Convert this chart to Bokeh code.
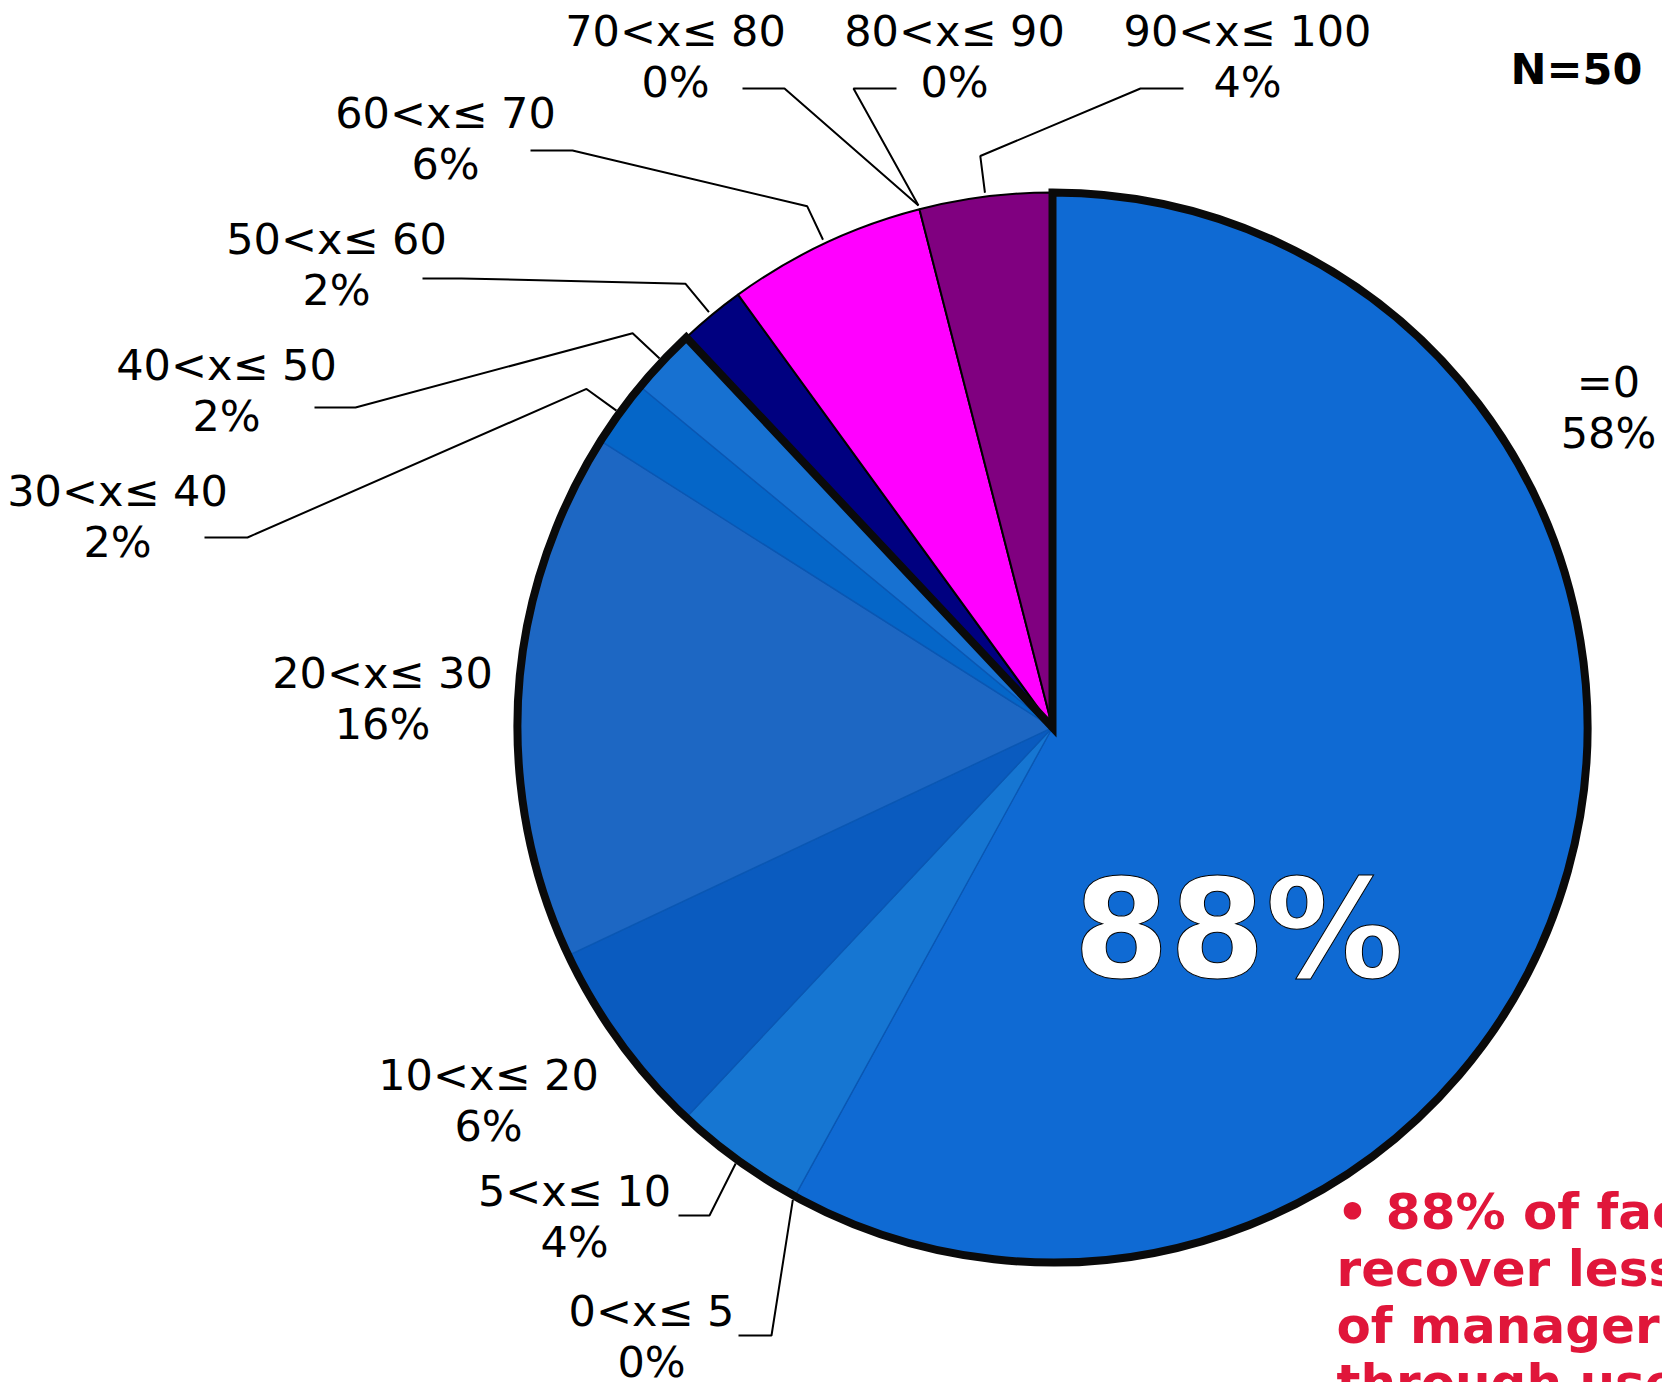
import math
from bokeh.plotting import figure
from bokeh.models import Range1d, ColumnDataSource, Text
from bokeh.core.properties import value
from bokeh.embed import file_html
from bokeh.resources import INLINE

# ---------------- data ----------------
categories = ["=0", "0<x≤ 5", "5<x≤ 10", "10<x≤ 20", "20<x≤ 30", "30<x≤ 40",
              "40<x≤ 50", "50<x≤ 60", "60<x≤ 70", "70<x≤ 80", "80<x≤ 90", "90<x≤ 100"]
shares = [58, 0, 4, 6, 16, 2, 2, 2, 6, 0, 0, 4]
colors = ["#0F6AD3", "#0F6AD3", "#1676D2", "#0A5BBF", "#1D67C3", "#0566C8",
          "#1771D1", "#000080", "#FF00FF", "#FF00FF", "#800080", "#800080"]
group_size = 7          # first seven categories form the highlighted group
n_label = "N=50"
note_lines = ["• 88% of facilities", "recover less than 50%",
              "of manager costs", "through user fees"]

# ---------------- layout (screen pixels) ----------------
W, H = 1662, 1382
def Y(sy):
    return H - sy

CX, CY, R = 1052, 727, 535
FONT = "DejaVu Sans"
LBL_SIZE = "43px"
LINE_GAP = 51
LBL_CORR = 17     # baseline correction for text rendering
BIG_CORR = 45

# label centre x, first-line baseline (screen coords)
label_pos = [(1608, 398), (651, 1327), (574, 1207), (488, 1091), (382, 689), (117, 507),
             (226, 381), (336, 255), (445, 129), (675, 47), (954, 47), (1247, 47)]
# leader lines: index -> (radial elbow?, remaining points)
leader_layout = {
    1: (False, [(771, 1335), (738, 1335)]),
    2: (False, [(709, 1215), (678, 1215)]),
    5: (True, [(247, 537), (204, 537)]),
    6: (True, [(355, 407), (314, 407)]),
    7: (True, [(461, 278), (422, 278)]),
    8: (True, [(572, 150), (530, 150)]),
    9: (False, [(784, 88), (742, 88)]),
    10: (False, [(853, 88), (896, 88)]),
    11: (True, [(1140, 88), (1183, 88)]),
}

# ---------------- angles ----------------
total = float(sum(shares))
theta1, theta2 = [], []   # clockwise from 12 o'clock, degrees
acc = 0.0
for s in shares:
    theta1.append(acc * 360 / total)
    acc += s
    theta2.append(acc * 360 / total)

def bk_angles(t1, t2):
    return math.radians(90 - t2), math.radians(90 - t1)

def pt(theta, r):
    t = math.radians(theta)
    return CX + r * math.sin(t), CY - r * math.cos(t)

p = figure(width=W, height=H, x_range=Range1d(0, W), y_range=Range1d(0, H),
           output_backend="svg", toolbar_location=None, min_border=0,
           x_axis_type=None, y_axis_type=None, outline_line_color=None,
           background_fill_color="white", border_fill_color="white")
p.grid.visible = False

# slices
src = dict(x=[], y=[], start=[], end=[], fill=[], line=[], lw=[])
for i, s in enumerate(shares):
    if s == 0:
        continue
    a, b = bk_angles(theta1[i], theta2[i])
    src["x"].append(CX); src["y"].append(Y(CY))
    src["start"].append(a); src["end"].append(b)
    src["fill"].append(colors[i])
    blue = i < group_size
    src["line"].append("#0A57B3" if blue else "black")
    src["lw"].append(1.3 if blue else 2)
p.wedge(x="x", y="y", radius=R, start_angle="start", end_angle="end",
        fill_color="fill", line_color="line", line_width="lw",
        source=ColumnDataSource(src))

# highlighted group outline
ga, gb = bk_angles(theta1[0], theta2[group_size - 1])
p.wedge(x=[CX], y=[Y(CY)], radius=R, start_angle=ga, end_angle=gb,
        fill_color=None, line_color="#0a0a0a", line_width=8, line_join="miter")

# leader lines
xs, ys = [], []
for i, (elbow, pts) in leader_layout.items():
    mid = (theta1[i] + theta2[i]) / 2
    path = [pt(mid, R + 4)]
    if elbow:
        path.append(pt(mid, R + 41))
    path += pts
    xs.append([q[0] for q in path])
    ys.append([Y(q[1]) for q in path])
p.multi_line(xs, ys, line_color="black", line_width=2)

# category labels
lx, ly, lt = [], [], []
for i, c in enumerate(categories):
    x0, b0 = label_pos[i]
    lx += [x0, x0]
    ly += [Y(b0 - LBL_CORR), Y(b0 + LINE_GAP - LBL_CORR)]
    lt += [c, f"{shares[i]}%"]
p.text(x=lx, y=ly, text=lt, text_font=value(FONT), text_font_size=LBL_SIZE,
       text_align="center", text_baseline="alphabetic", text_color="black")

# N label
p.text(x=[1576], y=[Y(85 - LBL_CORR)], text=[n_label], text_font=value(FONT),
       text_font_size="43px", text_font_style="bold", text_align="center",
       text_baseline="alphabetic", text_color="black")

# big group percentage
group_pct = sum(shares[:group_size])
extra = {}
if "text_outline_width" in Text.properties():
    extra["text_outline_width"] = 3
p.text(x=[1238], y=[Y(974 - BIG_CORR)], text=[f"{group_pct}%"], text_font=value(FONT),
       text_font_size="138px", text_font_style="bold", text_align="center",
       text_baseline="alphabetic", text_color="white", text_outline_color="black",
       **extra)

# red note
p.text(x=[1336] * len(note_lines),
       y=[Y(1228 + 57 * k - LBL_CORR) for k in range(len(note_lines))],
       text=note_lines, text_font=value(FONT), text_font_size="50px",
       text_font_style="bold", text_align="left", text_baseline="alphabetic",
       text_color="#E0163A")

open("out.html", "w").write(file_html(p, INLINE))
